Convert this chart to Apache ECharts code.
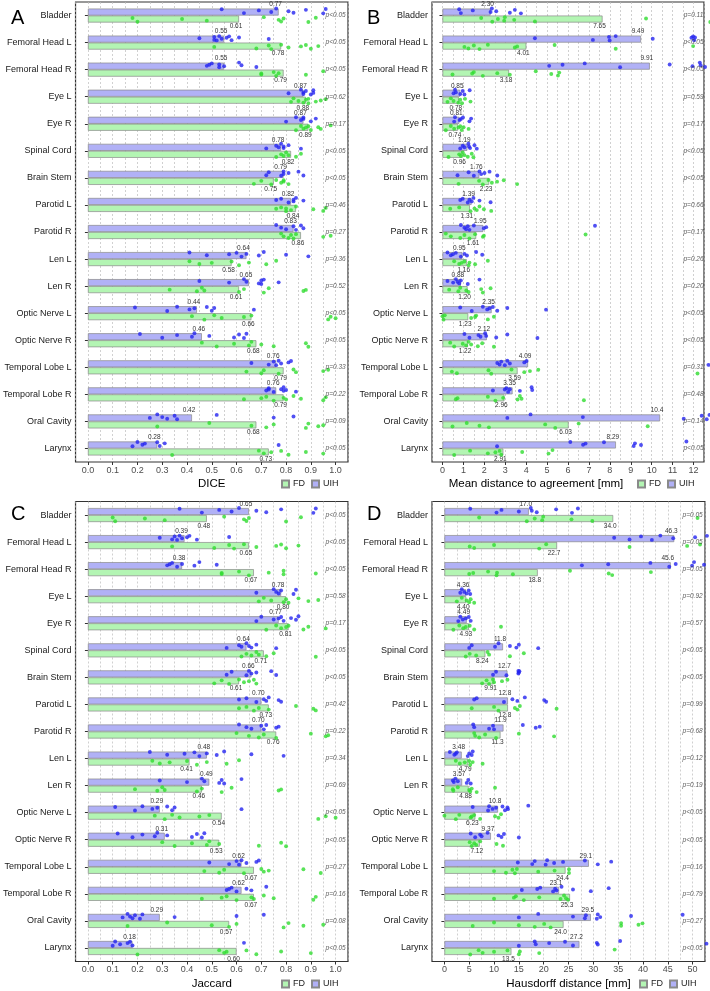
<!DOCTYPE html>
<html><head><meta charset="utf-8">
<script src="https://cdn.jsdelivr.net/npm/echarts@6/dist/echarts.min.js"></script>
<style>html,body{margin:0;padding:0;background:#fff}#c{width:710px;height:991px}</style>
</head><body><div id="c"></div>
<script>
const categories = ['Bladder','Femoral Head L','Femoral Head R','Eye L','Eye R','Spinal Cord','Brain Stem','Parotid L','Parotid R','Len L','Len R','Optic Nerve L','Optic Nerve R','Temporal Lobe L','Temporal Lobe R','Oral Cavity','Larynx'];

// Panel A: DICE
const diceTicks = [0,0.1,0.2,0.3,0.4,0.5,0.6,0.7,0.8,0.9,1.0];
const diceUIH = [0.77,0.55,0.55,0.87,0.87,0.78,0.79,0.82,0.83,0.64,0.65,0.44,0.46,0.76,0.76,0.42,0.28];
const diceFD  = [0.61,0.78,0.79,0.88,0.89,0.82,0.75,0.84,0.86,0.58,0.61,0.66,0.68,0.79,0.79,0.68,0.73];
const diceP = ['p<0.05','p<0.05','p<0.05','p=0.62','p=0.17','p<0.05','p<0.05','p=0.46','p=0.27','p=0.36','p=0.52','p<0.05','p<0.05','p=0.33','p=0.22','p=0.09','p<0.05'];
const diceUIHPts = [
 [.54,.63,.69,.74,.76,.81,.83,.88,.95,.96],
 [.45,.51,.51,.52,.53,.54,.56,.57,.58,.61,.73],
 [.48,.49,.50,.53,.53,.55,.61,.62,.68],
 [.81,.86,.87,.87,.88,.90,.91,.91],
 [.80,.84,.86,.87,.87,.90,.92],
 [.72,.76,.77,.78,.79,.79,.81,.86],
 [.72,.73,.78,.79,.79,.81,.85,.87],
 [.76,.78,.81,.83,.83,.84,.87],
 [.76,.78,.80,.83,.84,.86,.87],
 [.41,.48,.57,.60,.62,.64,.69,.71,.80,.89],
 [.45,.57,.63,.64,.69,.70,.70,.71,.77],
 [.19,.32,.36,.41,.43,.48,.50,.51,.67],
 [.21,.30,.36,.42,.43,.49,.59,.61,.63,.64],
 [.66,.73,.75,.76,.77,.78,.81,.82],
 [.72,.73,.73,.75,.78,.79,.79,.80,.84],
 [.25,.28,.30,.32,.35,.36,.52,.75,.83],
 [.18,.20,.22,.23,.28,.29,.31,.77]
];
const diceFDPts = [
 [.18,.20,.38,.48,.71,.77,.78,.79,.89,.92],
 [.51,.68,.73,.74,.78,.81,.86,.88,.90,.93],
 [.70,.70,.75,.76,.77,.88,.95],
 [.82,.83,.85,.87,.88,.89,.89,.92,.94,.96],
 [.84,.86,.87,.88,.89,.90,.93,.94,.98],
 [.76,.78,.79,.80,.81,.84,.86],
 [.67,.70,.74,.76,.78,.79,.79,.81],
 [.76,.78,.80,.80,.82,.84,.91,.95,.96],
 [.78,.79,.81,.82,.83,.84,.95,.98],
 [.41,.45,.50,.58,.61,.65,.72,.76],
 [.33,.44,.46,.47,.61,.63,.71,.73,.87,.88],
 [.42,.47,.51,.54,.63,.66,.97,.98,1.0],
 [.46,.52,.59,.65,.66,.70,.75,.88,.89],
 [.64,.70,.71,.77,.83,.84,.95,.97],
 [.63,.70,.72,.75,.79,.80,.83,.86,.95,.96],
 [.28,.49,.66,.72,.75,.88,.89,.93,.95],
 [.34,.69,.71,.74,.78,.81,.88,.95]
];

// Panel B: Mean distance to agreement
const mdaTicks = [0,1,2,3,4,5,6,7,8,9,10,11,12];
const mdaUIH = [2.30,9.49,9.91,0.85,0.81,1.19,1.76,1.39,1.95,0.95,0.88,2.35,2.12,4.09,3.35,10.4,8.29];
const mdaFD  = [7.65,4.01,3.18,0.78,0.74,0.96,2.23,1.31,1.61,1.16,1.20,1.23,1.22,3.59,2.96,6.03,2.91];
const mdaP = ['p=0.11','p<0.05','p<0.05','p=0.59','p=0.17','p<0.05','p<0.05','p=0.66','p=0.17','p=0.26','p=0.20','p<0.05','p<0.05','p=0.31','p=0.48','p=0.14','p<0.05'];
const mdaUIHPts = [
 [.80,.88,1.45,2.30,2.36,2.57,3.22,3.46,3.75],
 [4.42,7.19,7.96,7.99,8.28,10.05,11.90,11.98,12.03,12.07],
 [5.10,5.74,6.80,8.49,10.86,11.95,12.30,12.34,12.55],
 [.53,.60,.64,.85,.97,1.05,1.30],
 [.56,.60,.82,.88,.98,1.29,1.37],
 [.85,.97,1.05,1.24,1.27,1.32,1.53,1.64],
 [.72,1.25,1.50,1.77,1.85,2.01,2.25,2.62],
 [.85,.97,1.21,1.29,1.40,1.48,1.77,2.30],
 [.88,1.05,1.13,1.21,1.29,1.50,1.98,2.09,7.29],
 [.24,.40,.50,.64,.88,1.05,1.17,1.61,1.90],
 [.24,.51,.64,.72,.80,.88,1.21,1.77],
 [.85,1.40,1.93,2.14,2.25,2.41,2.62,3.10,4.95],
 [1.05,1.29,1.72,1.82,2.04,2.09,2.57,3.10,4.54],
 [2.62,2.73,2.81,2.98,3.10,3.22,3.91,4.02,12.71],
 [2.41,2.98,3.06,3.14,3.22,3.70,4.26,4.29],
 [3.10,4.21,6.71,11.53,12.39,12.63,12.76],
 [2.61,6.11,6.72,6.84,7.72,9.14,9.20,9.49,11.66]
];
const mdaFDPts = [
 [1.85,2.38,2.65,2.95,2.98,3.43,4.42,9.73,12.8],
 [1.05,1.24,1.50,1.77,2.17,3.46,3.57,5.36,8.28,11.98],
 [.48,1.42,1.50,1.93,2.62,3.22,4.46,5.20,5.52,5.58],
 [.24,.40,.53,.76,.85,.93,1.08,1.34],
 [.16,.40,.56,.77,.85,.92,1.01,1.25],
 [.29,.80,.88,.97,1.05,1.21,1.40,1.48],
 [.77,1.75,1.93,2.20,2.36,2.61,2.93,3.57],
 [.37,.80,1.34,1.53,1.64,1.77,1.98,2.33],
 [.16,.40,.85,1.05,1.29,1.56,1.93,1.98,6.84],
 [.56,.80,.92,1.05,1.25,1.29,1.56,2.17],
 [.32,.76,.85,1.14,1.25,1.85,1.93,2.30],
 [0,.05,.11,1.37,1.56,1.61,2.17,2.46],
 [.37,.56,.97,1.13,1.25,1.37,1.69,1.90,2.46],
 [.45,.69,2.20,2.33,3.30,3.91,4.18,4.58,12.19],
 [.64,.72,2.17,2.53,2.90,3.59,3.70,3.78,6.76],
 [.48,1.16,1.77,2.22,4.91,5.39,6.51,9.81],
 [.56,1.32,2.17,2.53,2.73,2.81,3.81,5.07,5.26]
];

// Panel C: Jaccard
const jacTicks = [0,0.1,0.2,0.3,0.4,0.5,0.6,0.7,0.8,0.9,1.0];
const jacUIH = [0.65,0.39,0.38,0.78,0.77,0.64,0.66,0.70,0.70,0.48,0.49,0.29,0.31,0.62,0.62,0.29,0.18];
const jacFD  = [0.48,0.65,0.67,0.80,0.81,0.71,0.61,0.73,0.76,0.41,0.46,0.54,0.53,0.67,0.67,0.57,0.60];
const jacP = ['p<0.05','p<0.05','p<0.05','p=0.58','p=0.17','p<0.05','p<0.05','p=0.42','p=0.22','p=0.34','p=0.69','p<0.05','p<0.05','p=0.27','p=0.16','p=0.08','p<0.05'];
const jacUIHPts = [
 [.37,.46,.53,.58,.61,.68,.72,.78,.91,.92],
 [.29,.34,.35,.36,.37,.38,.40,.41,.44,.57],
 [.32,.33,.34,.36,.38,.43,.45,.52],
 [.68,.75,.76,.77,.78,.83,.84],
 [.68,.70,.75,.77,.78,.79,.82,.84,.85],
 [.56,.61,.62,.64,.65,.66,.68,.76],
 [.56,.58,.64,.65,.66,.68,.74,.76],
 [.61,.64,.68,.71,.72,.73,.77,.78],
 [.61,.64,.66,.70,.71,.72,.76,.77],
 [.25,.32,.39,.43,.45,.48,.52,.55,.66,.79],
 [.29,.40,.46,.47,.53,.54,.55,.62],
 [.11,.19,.22,.26,.28,.32,.34,.35,.62],
 [.12,.18,.22,.27,.28,.32,.42,.44,.46,.47],
 [.49,.57,.60,.61,.62,.64,.68,.69],
 [.56,.57,.58,.60,.64,.66,.72],
 [.14,.16,.17,.18,.19,.21,.22,.35,.60,.71],
 [.10,.11,.13,.16,.17,.18,.63]
];
const jacFDPts = [
 [.10,.11,.23,.31,.55,.63,.64,.65,.80,.86],
 [.34,.51,.57,.59,.63,.68,.76,.78,.80,.85],
 [.54,.54,.61,.65,.73,.79,.79,.92],
 [.69,.71,.74,.79,.80,.81,.85,.89,.93],
 [.72,.76,.78,.80,.81,.87,.89,.96],
 [.62,.64,.66,.68,.69,.72,.75,.92],
 [.51,.54,.57,.61,.63,.65,.67,.68],
 [.61,.64,.67,.69,.73,.84,.91,.92],
 [.60,.65,.69,.71,.76,.90,.96,.97],
 [.26,.29,.33,.40,.44,.48,.56,.61],
 [.19,.28,.30,.31,.44,.46,.54,.58,.77,.78],
 [.27,.31,.34,.37,.45,.49,.93,.96,1.0],
 [.30,.35,.42,.48,.49,.53,.69,.78,.80],
 [.47,.53,.55,.63,.70,.71,.73,.87,.94],
 [.46,.54,.56,.60,.66,.67,.71,.75,.91,.92],
 [.16,.32,.50,.57,.60,.79,.81,.87,.95],
 [.20,.53,.55,.56,.64,.68,.78,.90]
];

// Panel D: Hausdorff distance
const hdTicks = [0,5,10,15,20,25,30,35,40,45,50];
const hdUIH = [17.0,46.3,45.6,4.36,4.49,11.8,12.7,12.8,11.9,3.48,3.57,10.8,9.37,29.1,23.1,29.5,27.2];
const hdFD  = [34.0,22.7,18.8,4.40,4.93,8.24,9.91,12.8,11.3,4.79,4.88,6.23,7.12,24.4,25.3,24.0,13.5];
const hdP = ['p=0.05','p=0.05','p=0.05','p=0.92','p=0.57','p<0.05','p<0.05','p=0.99','p=0.68','p=0.12','p=0.19','p<0.05','p<0.05','p=0.16','p=0.79','p=0.27','p<0.05'];
const hdUIHPts = [
 [5.2,10.5,11.5,15.0,17.4,17.6,18.6,22.5,25.7,26.9],
 [34.2,37.3,39.6,41.8,43.5,46.1,50.5,52.9],
 [27.7,33.0,41.5,45.3,46.6,49.9,50.3,52.3],
 [3.2,3.5,4.0,4.5,4.9,5.2],
 [2.8,3.2,3.7,4.3,4.9,5.3],
 [5.0,5.5,10.2,10.9,13.2,14.5,15.0,18.9],
 [9.8,10.4,12.5,14.9,14.9,15.0,15.1],
 [6.0,6.5,12.0,13.7,14.7,16.2,20.1,20.5],
 [5.8,6.0,9.0,9.8,10.0,15.8,18.4,19.2],
 [1.1,2.0,2.3,2.5,4.7,5.0,5.5,5.7],
 [1.7,1.9,2.2,2.7,4.5,4.8,5.3],
 [5.7,8.8,9.0,9.7,10.4,11.7,12.2,12.7,12.8,16.9],
 [5.3,6.2,7.2,7.5,8.7,10.9,11.5,12.0,15.0],
 [14.8,17.7,18.2,20.4,20.7,22.1,23.9,28.3,30.9,33.6],
 [15.6,18.7,19.3,21.9,22.3,22.6,23.6,25.9,29.5,33.1],
 [15.0,18.9,25.9,28.3,28.5,30.7,30.9,31.4,37.6,48.0],
 [15.0,18.2,18.4,21.1,24.3,25.9,30.7,30.9,35.4,52.8]
];
const hdFDPts = [
 [7.0,16.6,18.2,19.7,19.9,25.6,29.8,51.0],
 [5.1,6.0,10.0,19.1,20.5,37.3,48.9,51.5],
 [5.0,5.8,8.8,10.5,10.6,13.8,25.3,33.1,33.8,41.6],
 [2.5,3.5,4.5,5.0,5.3,6.0],
 [1.8,3.0,3.8,4.3,5.1,6.0,11.4],
 [4.3,5.1,6.4,8.7,9.0,13.2,16.0],
 [7.6,8.5,9.0,9.8,10.0,11.6,12.7],
 [5.5,10.0,10.9,14.2,14.7,15.2,22.6],
 [6.0,6.2,7.0,8.2,10.4,15.0,22.1],
 [2.3,3.1,4.1,5.0,5.2,5.7,7.7],
 [1.7,1.8,2.7,5.0,5.2,5.5,6.5,10.2],
 [0,2.3,3.0,5.3,5.5,6.0,7.2,10.2,10.9,11.4],
 [5.1,5.5,6.0,6.4,7.2,10.5,11.8],
 [10.0,12.4,13.7,14.2,14.6,18.9,22.2,25.1,25.1],
 [10.0,14.0,14.4,16.0,19.1,23.4,24.1,24.5,24.9],
 [5.7,10.0,15.0,18.2,20.1,21.4,35.6,35.6,39.1,39.9],
 [5.2,6.9,7.7,10.0,12.7,15.0,15.2,19.1,34.3]
];

// ---- layout / style (not data) ----
const JITTER = [-0.06,0.08,-0.02,0.04,-0.09,0.01,0.07,-0.04,0.09,-0.07,0.03,-0.01];
const FONT = 'Liberation Sans, Arial, sans-serif';
const C_UIH_BAR = '#b1b1f6', C_FD_BAR = '#b3f5b3', C_BORDER = '#8a8a8a';
const C_UIH_PT = '#2424f0', C_FD_PT = '#30dc30';

function fmtBar(v){ return v < 1 ? v.toFixed(2) : v.toPrecision(3); }

const panels = [
 {letter:'A', grid:{left:73, top:2, width:275, height:460}, min:-0.05, max:1.05, step:0.05, ticks:diceTicks, tf:v=>v.toFixed(1), name:'DICE', namePad:0,
  uih:diceUIH, fd:diceFD, p:diceP, up:diceUIHPts, fp:diceFDPts, pX:1.0, legend:{left:281, top:479.5}, lt:{left:6, top:3}},
 {letter:'B', grid:{left:432, top:2, width:272, height:460}, min:-0.5, max:12.5, step:0.5, ticks:mdaTicks, tf:v=>String(v), name:'Mean distance to agreement [mm]', namePad:64,
  uih:mdaUIH, fd:mdaFD, p:mdaP, up:mdaUIHPts, fp:mdaFDPts, pX:12, legend:{left:637, top:479.5}, lt:{left:362, top:3}},
 {letter:'C', grid:{left:73, top:501.5, width:275, height:460}, min:-0.05, max:1.05, step:0.05, ticks:jacTicks, tf:v=>v.toFixed(1), name:'Jaccard', namePad:0,
  uih:jacUIH, fd:jacFD, p:jacP, up:jacUIHPts, fp:jacFDPts, pX:1.0, legend:{left:281, top:979.5}, lt:{left:6, top:499}},
 {letter:'D', grid:{left:432, top:501.5, width:273, height:460}, min:-2.5, max:52.5, step:2.5, ticks:hdTicks, tf:v=>String(v), name:'Hausdorff distance [mm]', namePad:0,
  uih:hdUIH, fd:hdFD, p:hdP, up:hdUIHPts, fp:hdFDPts, pX:50, legend:{left:639, top:979.5}, lt:{left:362, top:499}}
];

const option = {animation:false, backgroundColor:'#fff', textStyle:{fontFamily:FONT},
  grid:[], xAxis:[], yAxis:[], series:[], title:[], legend:[]};

function pts(arr, center){
  const out = [];
  arr.forEach((vals, i) => vals.forEach((v, j) => {
    out.push([v, i + center + JITTER[(i*5 + j) % JITTER.length]]);
  }));
  return out;
}
function isMajor(v, ticks){ return ticks.some(t => Math.abs(t - v) < 1e-6); }

panels.forEach((P, k) => {
  option.grid.push(Object.assign({show:true, borderColor:'#333', borderWidth:1.2, backgroundColor:'#fff', containLabel:false}, P.grid));
  option.xAxis.push({gridIndex:k, type:'value', min:P.min, max:P.max, interval:P.step, position:'bottom',
    axisLine:{show:false}, axisTick:{show:false},
    axisLabel:{formatter:v=>isMajor(v,P.ticks)?P.tf(+v.toFixed(4)):'', fontSize:9, color:'#4d4d4d', margin:4, fontFamily:FONT, showMinLabel:true, showMaxLabel:true, hideOverlap:false},
    splitLine:{show:true, lineStyle:{color:'#bdbdbd', type:[2,2], width:0.7}},
    name:P.name, nameLocation:'middle', nameGap:16,
    nameTextStyle:{fontSize:11.5, color:'#000', fontFamily:FONT, padding:[0,P.namePad,0,0]}
  });
  option.xAxis.push({gridIndex:k, type:'value', min:P.min, max:P.max, position:'bottom',
    axisLine:{show:false},
    axisTick:{show:true, length:3, customValues:P.ticks, lineStyle:{color:'#333', width:1}},
    axisLabel:{show:false}, splitLine:{show:false}, minorSplitLine:{show:false}
  });
  option.yAxis.push({gridIndex:k, type:'category', data:categories, inverse:true,
    axisLine:{show:false},
    axisTick:{show:true, length:3, alignWithLabel:true, lineStyle:{color:'#333'}},
    axisLabel:{interval:0, fontSize:9, color:'#1a1a1a', margin:4, fontFamily:FONT},
    splitLine:{show:false}
  });
  option.yAxis.push({gridIndex:k, type:'value', min:-0.5, max:16.5, inverse:true, show:false, splitLine:{show:false}});

  const xi = 2*k, yc = 2*k, yv = 2*k+1;
  option.series.push({type:'bar', name:'UIH', xAxisIndex:xi, yAxisIndex:yc, data:P.uih, barWidth:7, barGap:'0%',
    itemStyle:{color:C_UIH_BAR, borderColor:C_BORDER, borderWidth:0.7},
    label:{show:true, position:['100%',0], align:'center', verticalAlign:'bottom', offset:[-3,-0.5],
      formatter:p=>fmtBar(p.value), fontSize:6.5, color:'#333', fontFamily:FONT}, silent:true, z:2});
  option.series.push({type:'bar', name:'FD', xAxisIndex:xi, yAxisIndex:yc, data:P.fd, barWidth:7, barGap:'0%',
    itemStyle:{color:C_FD_BAR, borderColor:C_BORDER, borderWidth:0.7},
    label:{show:true, position:['100%','100%'], align:'center', verticalAlign:'top', offset:[-3,0.5],
      formatter:p=>fmtBar(p.value), fontSize:6.5, color:'#333', fontFamily:FONT}, silent:true, z:2});
  option.series.push({type:'scatter', name:'UIH', xAxisIndex:xi, yAxisIndex:yv, data:pts(P.up, -0.17),
    symbolSize:3.9, itemStyle:{color:C_UIH_PT}, clip:false, silent:true, z:4});
  option.series.push({type:'scatter', name:'FD', xAxisIndex:xi, yAxisIndex:yv, data:pts(P.fp, 0.15),
    symbolSize:3.9, itemStyle:{color:C_FD_PT}, clip:false, silent:true, z:4});
  option.series.push({type:'scatter', name:'pval'+k, xAxisIndex:xi, yAxisIndex:yv,
    data:P.p.map((t,i)=>({value:[P.pX, i], txt:t})), symbolSize:1, itemStyle:{color:'transparent'},
    label:{show:true, position:'inside', formatter:p=>p.data.txt, fontSize:6.5, fontStyle:'italic', color:'#333', fontFamily:FONT},
    silent:true, z:5});

  option.title.push({text:P.letter, left:P.lt.left, top:P.lt.top, textStyle:{fontSize:20, fontWeight:'normal', color:'#000', fontFamily:FONT}});
  option.legend.push({left:P.legend.left, top:P.legend.top, orient:'horizontal', data:['FD','UIH'], icon:'rect',
    itemWidth:7, itemHeight:7, itemGap:6, padding:0, selectedMode:false,
    textStyle:{fontSize:9, color:'#1a1a1a', fontFamily:FONT, padding:[0,0,0,-1]}});
});

const chart = echarts.init(document.getElementById('c'), null, {renderer:'canvas', width:710, height:991});
chart.setOption(option);
</script>
</body></html>
